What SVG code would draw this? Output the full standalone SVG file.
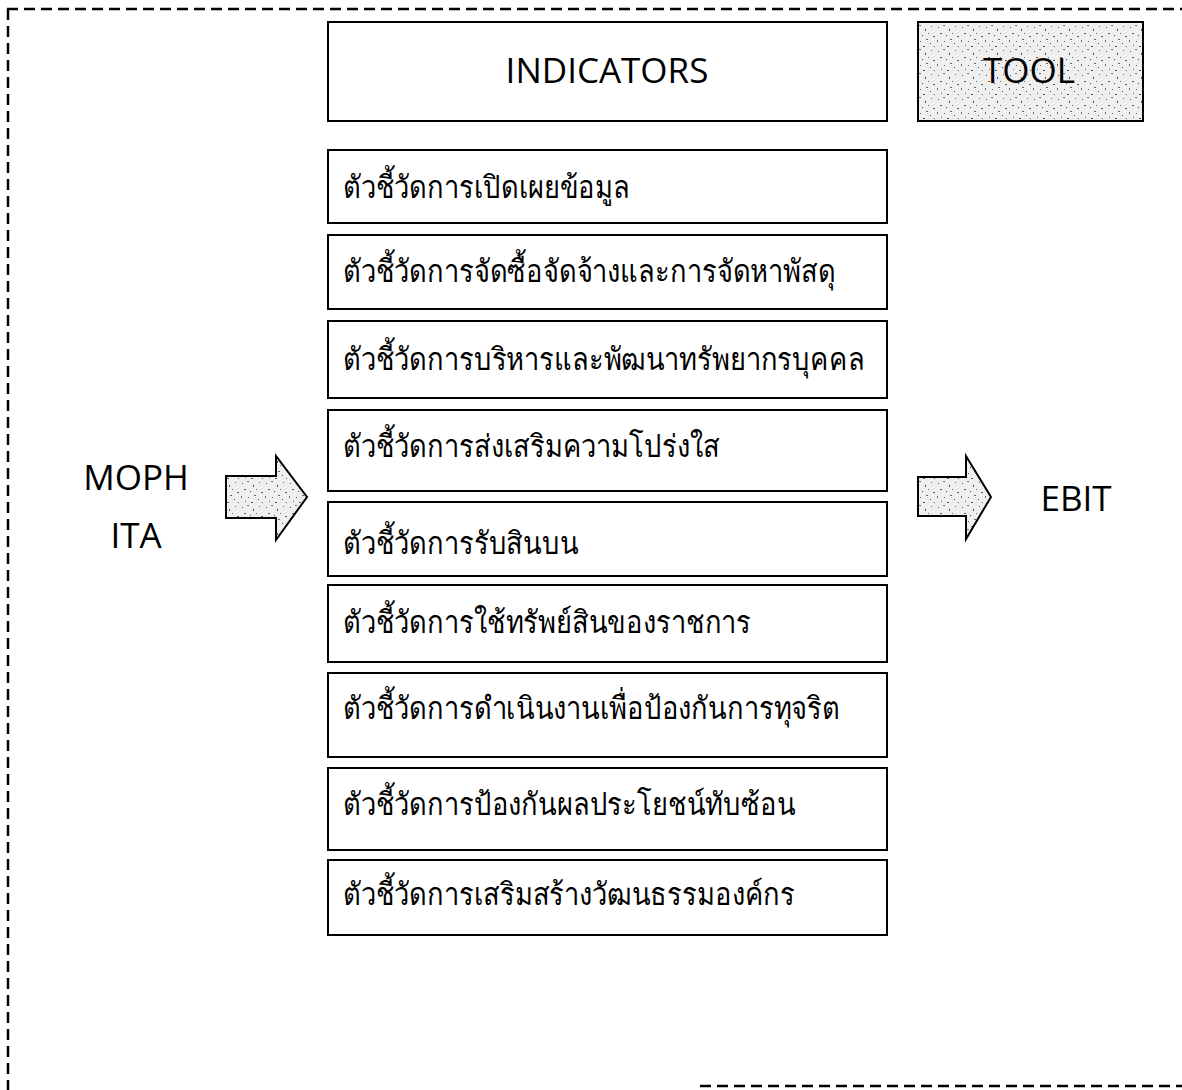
<svg xmlns="http://www.w3.org/2000/svg" width="1182" height="1090" viewBox="0 0 1182 1090">
<defs>
<pattern id="stip" width="24" height="24" patternUnits="userSpaceOnUse">
<rect width="24" height="24" fill="#efefef"/>
<rect x="2" y="3" width="1" height="1" fill="#555"/>
<rect x="7" y="1" width="2" height="1" fill="#777"/>
<rect x="13" y="5" width="1" height="2" fill="#555"/>
<rect x="19" y="2" width="1" height="1" fill="#666"/>
<rect x="4" y="9" width="2" height="1" fill="#666"/>
<rect x="10" y="11" width="1" height="1" fill="#444"/>
<rect x="16" y="9" width="1" height="1" fill="#777"/>
<rect x="21" y="12" width="2" height="1" fill="#555"/>
<rect x="1" y="16" width="1" height="2" fill="#666"/>
<rect x="8" y="17" width="1" height="1" fill="#555"/>
<rect x="14" y="15" width="2" height="1" fill="#666"/>
<rect x="18" y="19" width="1" height="1" fill="#444"/>
<rect x="5" y="21" width="1" height="1" fill="#777"/>
<rect x="11" y="22" width="2" height="1" fill="#555"/>
<rect x="22" y="22" width="1" height="1" fill="#666"/>
</pattern>
</defs>
<style>
.box{fill:#fff;stroke:#000;stroke-width:2}
.lbl{font-family:"Noto Sans","DejaVu Sans",sans-serif;font-size:31px;fill:#000}
.big{font-family:"Open Sans","Liberation Sans",sans-serif;font-size:35px;fill:#000}
.arrow{fill:url(#stip);stroke:#000;stroke-width:2;stroke-linejoin:miter}
.frame{fill:none;stroke:#000;stroke-width:2.5;stroke-dasharray:11,6}
</style>
<rect width="1182" height="1090" fill="#fff"/>
<g id="frame">
<line class="frame" x1="7" y1="9" x2="1182" y2="9"/>
<line class="frame" x1="8" y1="9" x2="8" y2="1090"/>
<line class="frame" x1="700" y1="1086" x2="1182" y2="1086"/>
</g>
<g id="indicators">
<rect class="box" x="328" y="22" width="559" height="99"/>
<text class="big" x="607" y="83" text-anchor="middle">INDICATORS</text>
</g>
<g id="tool">
<rect x="918" y="22" width="225" height="99" fill="url(#stip)" stroke="#000" stroke-width="2"/>
<text class="big" x="1029" y="83" text-anchor="middle">TOOL</text>
</g>
<g id="moph">
<text class="big" x="136" y="490" text-anchor="middle">MOPH</text>
<text class="big" x="136" y="548" text-anchor="middle">ITA</text>
</g>
<g id="ebit">
<text class="big" x="1076" y="511" text-anchor="middle">EBIT</text>
</g>
<g id="i1"><rect class="box" x="328" y="150" width="559" height="73"/><text class="lbl" transform="translate(343,198) scale(0.88,1)">ตัวชี้วัดการเปิดเผยข้อมูล</text></g>
<g id="i2"><rect class="box" x="328" y="235" width="559" height="74"/><text class="lbl" transform="translate(343,282) scale(0.88,1)">ตัวชี้วัดการจัดซื้อจัดจ้างและการจัดหาพัสดุ</text></g>
<g id="i3"><rect class="box" x="328" y="321" width="559" height="77"/><text class="lbl" transform="translate(343,370) scale(0.88,1)">ตัวชี้วัดการบริหารและพัฒนาทรัพยากรบุคคล</text></g>
<g id="i4"><rect class="box" x="328" y="410" width="559" height="81"/><text class="lbl" transform="translate(343,457) scale(0.88,1)">ตัวชี้วัดการส่งเสริมความโปร่งใส</text></g>
<g id="i5"><rect class="box" x="328" y="502" width="559" height="74"/><text class="lbl" transform="translate(343,554) scale(0.88,1)">ตัวชี้วัดการรับสินบน</text></g>
<g id="i6"><rect class="box" x="328" y="585" width="559" height="77"/><text class="lbl" transform="translate(343,633) scale(0.88,1)">ตัวชี้วัดการใช้ทรัพย์สินของราชการ</text></g>
<g id="i7"><rect class="box" x="328" y="673" width="559" height="84"/><text class="lbl" transform="translate(343,719) scale(0.88,1)">ตัวชี้วัดการดำเนินงานเพื่อป้องกันการทุจริต</text></g>
<g id="i8"><rect class="box" x="328" y="768" width="559" height="82"/><text class="lbl" transform="translate(343,815) scale(0.88,1)">ตัวชี้วัดการป้องกันผลประโยชน์ทับซ้อน</text></g>
<g id="i9"><rect class="box" x="328" y="860" width="559" height="75"/><text class="lbl" transform="translate(343,905) scale(0.88,1)">ตัวชี้วัดการเสริมสร้างวัฒนธรรมองค์กร</text></g>
<g id="connectors">
<path class="arrow" d="M226,476 L276,476 L276,456 L307,497 L276,540 L276,518 L226,518 Z"/>
<path class="arrow" d="M918,477 L966,477 L966,456 L991,497 L966,539 L966,516 L918,516 Z"/>
</g>
</svg>
